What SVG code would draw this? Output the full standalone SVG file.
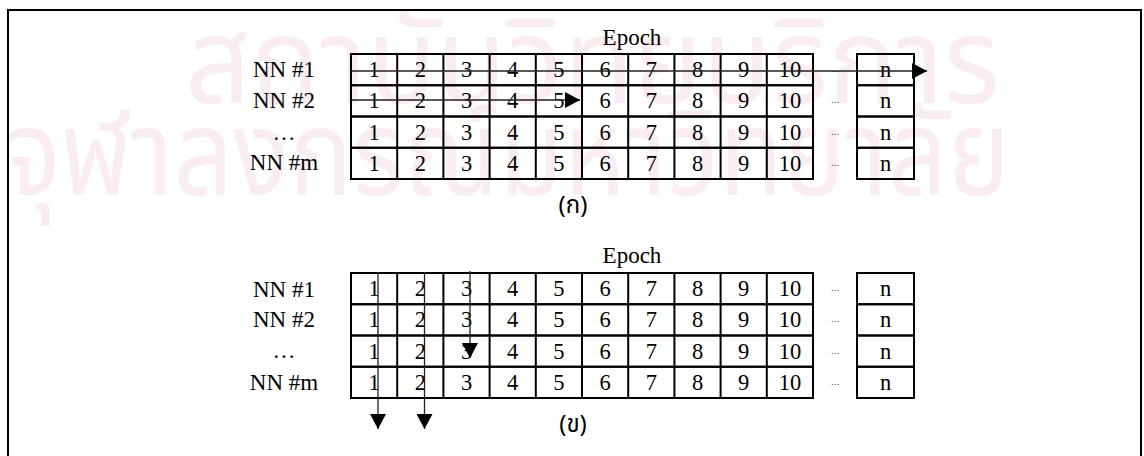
<svg xmlns="http://www.w3.org/2000/svg" width="1144" height="456" viewBox="0 0 1144 456">
  <style>
    .frame { fill: none; stroke: #000; stroke-width: 2; }
    .cell { fill: none; stroke: #000; stroke-width: 2; }
    .num { font-family: "Liberation Serif", "Times New Roman", serif; font-size: 22.5px; fill: #000; text-anchor: middle; }
    .lbl { font-family: "Liberation Serif", "Times New Roman", serif; font-size: 23px; fill: #000; text-anchor: middle; }
    .dots { font-family: "Liberation Serif", serif; font-size: 11px; fill: #555; text-anchor: middle; }
    .cap { font-family: "Noto Sans Thai", "Loma", "Garuda", "Noto Sans", sans-serif; font-size: 24px; fill: #000; text-anchor: middle; }
    .wm { font-family: "Noto Sans Thai", "Loma", "Garuda", "Noto Sans", sans-serif; font-size: 120px; fill: #f9edf1; }
    .flow { fill: none; stroke: #222; stroke-width: 1.3; }
  </style>
  <defs>
    <marker id="head" viewBox="0 0 15 16" refX="15" refY="8" markerWidth="15" markerHeight="16" markerUnits="userSpaceOnUse" orient="auto">
      <polygon points="0,0 15,8 0,16" fill="#000"/>
    </marker>
    <!-- one row of epoch cells: ten numbered cells, a gap with dots, and the last cell -->
    <g id="row">
      <rect class="cell" x="351" y="0" width="462" height="31.25"/>
      <line class="cell" x1="397.2" y1="0" x2="397.2" y2="31.25"/>
      <line class="cell" x1="443.4" y1="0" x2="443.4" y2="31.25"/>
      <line class="cell" x1="489.6" y1="0" x2="489.6" y2="31.25"/>
      <line class="cell" x1="535.8" y1="0" x2="535.8" y2="31.25"/>
      <line class="cell" x1="582" y1="0" x2="582" y2="31.25"/>
      <line class="cell" x1="628.2" y1="0" x2="628.2" y2="31.25"/>
      <line class="cell" x1="674.4" y1="0" x2="674.4" y2="31.25"/>
      <line class="cell" x1="720.6" y1="0" x2="720.6" y2="31.25"/>
      <line class="cell" x1="766.8" y1="0" x2="766.8" y2="31.25"/>
      <rect class="cell" x="857" y="0" width="57" height="31.25"/>
      <text class="num" x="374.1" y="23">1</text>
      <text class="num" x="420.3" y="23">2</text>
      <text class="num" x="466.5" y="23">3</text>
      <text class="num" x="512.7" y="23">4</text>
      <text class="num" x="558.9" y="23">5</text>
      <text class="num" x="605.1" y="23">6</text>
      <text class="num" x="651.3" y="23">7</text>
      <text class="num" x="697.5" y="23">8</text>
      <text class="num" x="743.7" y="23">9</text>
      <text class="num" x="789.9" y="23">10</text>
      <text class="dots" x="835" y="18">...</text>
      <text class="num" x="885.5" y="23">n</text>
    </g>
  </defs>

  <rect width="1144" height="456" fill="#fff"/>

  <!-- faint background watermark -->
  <g id="watermark">
    <text class="wm" x="185" y="103" textLength="815" lengthAdjust="spacingAndGlyphs">สถาบันวิทยบริการ</text>
    <text class="wm" x="5" y="195" textLength="1005" lengthAdjust="spacingAndGlyphs">จุฬาลงกรณ์มหาวิทยาลัย</text>
  </g>

  <!-- outer frame, open at the bottom -->
  <path class="frame" d="M8,470 V10 H1141 V470"/>

  <!-- (ก) sequential training -->
  <g id="grid-a">
    <text class="lbl" x="632" y="45">Epoch</text>
    <text class="lbl" x="284" y="77">NN #1</text>
    <text class="lbl" x="284" y="108">NN #2</text>
    <text class="lbl" x="284" y="140">…</text>
    <text class="lbl" x="284" y="170">NN #m</text>
    <use href="#row" y="54"/>
    <use href="#row" y="85.25"/>
    <use href="#row" y="116.5"/>
    <use href="#row" y="147.75"/>
    <text class="cap" x="573" y="213">(ก)</text>
  </g>

  <!-- (ข) parallel training -->
  <g id="grid-b">
    <text class="lbl" x="632" y="263">Epoch</text>
    <text class="lbl" x="284" y="297">NN #1</text>
    <text class="lbl" x="284" y="327">NN #2</text>
    <text class="lbl" x="284" y="358">…</text>
    <text class="lbl" x="284" y="390">NN #m</text>
    <use href="#row" y="273"/>
    <use href="#row" y="304.25"/>
    <use href="#row" y="335.5"/>
    <use href="#row" y="366.75"/>
    <text class="cap" x="573" y="432">(ข)</text>
  </g>

  <g id="connectors">
    <line class="flow" x1="351" y1="71" x2="927" y2="71" marker-end="url(#head)"/>
    <line class="flow" x1="351" y1="100" x2="580" y2="100" marker-end="url(#head)"/>
    <line class="flow" x1="378" y1="272" x2="378" y2="429" marker-end="url(#head)"/>
    <line class="flow" x1="424.5" y1="272" x2="424.5" y2="429" marker-end="url(#head)"/>
    <line class="flow" x1="470" y1="271" x2="470" y2="358" marker-end="url(#head)"/>
  </g>
</svg>
